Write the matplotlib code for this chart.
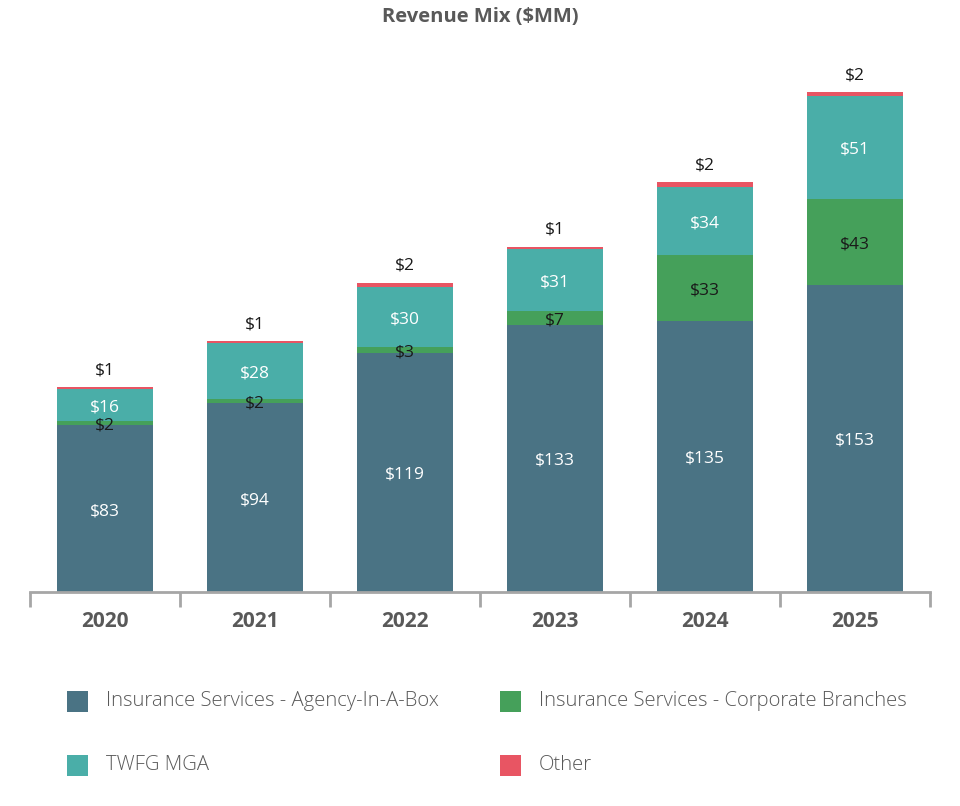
import matplotlib
matplotlib.use("Agg")
import matplotlib.pyplot as plt
from matplotlib.patches import Rectangle

years = ["2020", "2021", "2022", "2023", "2024", "2025"]
agency = [83, 94, 119, 133, 135, 153]
branches = [2, 2, 3, 7, 33, 43]
mga = [16, 28, 30, 31, 34, 51]
other = [1, 1, 2, 1, 2, 2]
series_names = ["Insurance Services - Agency-In-A-Box",
                "Insurance Services - Corporate Branches",
                "TWFG MGA", "Other"]
colors = ["#4A7384", "#45A05A", "#4AAEA8", "#E85563"]

plt.rcParams['font.family'] = ['Open Sans', 'DejaVu Sans']

W, H = 960, 806
fig = plt.figure(figsize=(W / 100, H / 100), dpi=100)
ax_left, ax_right = 30 / W, 930 / W
ax_bottom = 1 - 592 / H
ax_top = 1 - 50 / H
ax = fig.add_axes([ax_left, ax_bottom, ax_right - ax_left, ax_top - ax_bottom])

x = list(range(len(years)))
bw = 0.64
series = [agency, branches, mga, other]
bottoms = [0] * len(years)
label_colors = ["white", "#1a1a1a", "white", "#1a1a1a"]
for i, (vals, c) in enumerate(zip(series, colors)):
    ax.bar(x, vals, bw, bottom=bottoms, color=c, linewidth=0)
    for j, v in enumerate(vals):
        if i == 3:
            ax.text(j, bottoms[j] + v + 4.5, f"${v}", ha="center", va="bottom",
                    fontsize=12.5, color="#1a1a1a")
        else:
            yc = bottoms[j] + v / 2 - 1.2
            ax.text(j, yc, f"${v}", ha="center", va="center",
                    fontsize=12.5, color=label_colors[i])
    bottoms = [b + v for b, v in zip(bottoms, vals)]

ax.set_xlim(-0.5, len(years) - 0.5)
ax.set_ylim(0, 270)
for s in ["top", "right", "left"]:
    ax.spines[s].set_visible(False)
ax.spines["bottom"].set_color("#A6A6A6")
ax.spines["bottom"].set_linewidth(2)
ax.set_yticks([])
ax.set_xticks([i - 0.5 for i in range(len(years) + 1)], minor=False)
ax.set_xticklabels([])
ax.tick_params(axis="x", which="major", length=11, width=2, color="#A6A6A6", direction="out")
for j, y in enumerate(years):
    ax.text(j, -14.5, y, ha="center", va="center", fontsize=15, fontweight="bold",
            color="#595959")

fig.text(0.5, 1 - 17 / H, "Revenue Mix ($MM)", ha="center", va="center",
         fontsize=14.5, fontweight="bold", color="#595959")

# legend
leg_pos = [(67, 701), (500, 701), (67, 765), (500, 765)]
for (lx, ly), name, c in zip(leg_pos, series_names, colors):
    sq = 21
    fig.patches.append(Rectangle((lx / W, 1 - (ly + sq / 2) / H), sq / W, sq / H,
                                 transform=fig.transFigure, color=c, linewidth=0))
    fig.text((lx + 39) / W, 1 - ly / H, name, ha="left", va="center",
             fontsize=14.6, color="#595959", fontweight="light")

fig.savefig("out.png", dpi=100)
